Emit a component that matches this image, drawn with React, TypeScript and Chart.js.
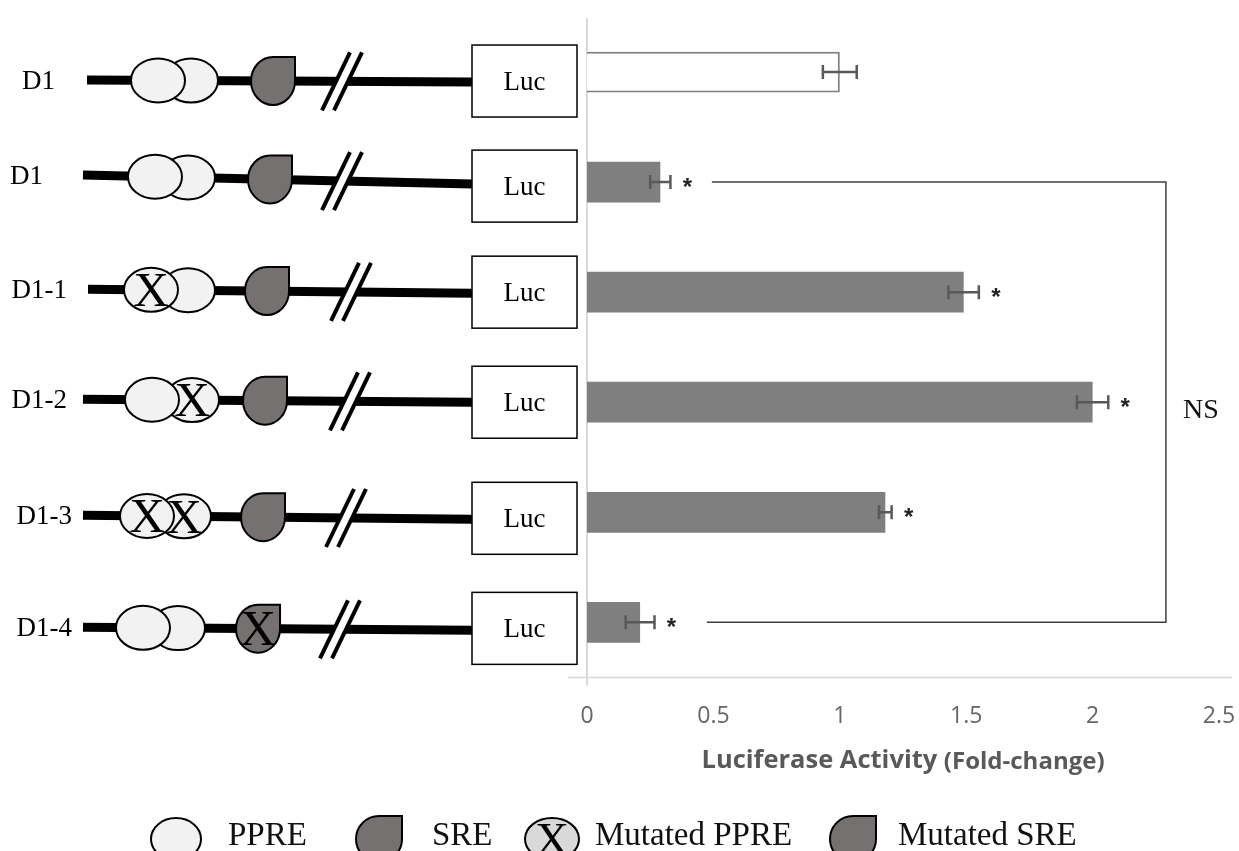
import React, { useEffect, useRef } from "react";
import { Chart, registerables } from "chart.js";
Chart.register(...registerables);

// ---------------- data ----------------
const constructs = ["D1", "D1", "D1-1", "D1-2", "D1-3", "D1-4"];
const foldChange = [1.0, 0.29, 1.49, 2.0, 1.18, 0.21];
const foldError = [0.067, 0.04, 0.06, 0.062, 0.025, 0.057];
const significance = ["", "*", "*", "*", "*", "*"];
const ppre1Mutated = [false, false, true, false, true, false];
const ppre2Mutated = [false, false, false, true, true, false];
const sreMutated = [false, false, false, false, false, true];
const xTickValues = [0, 0.5, 1, 1.5, 2, 2.5];
const axisTitle = "Luciferase Activity";
const axisSubtitle = "(Fold-change)";
const nsRows = [1, 5];
const nsBracketStart = [0.494, 0.474];
const nsBracketEnd = 2.29;
const nsLabel = "NS";
const legendLabels = ["PPRE", "SRE", "Mutated PPRE", "Mutated SRE"];

// ---------------- diagram layout (decoration) ----------------
const labelRight = [55, 43, 67, 67, 72, 72];
const lineStart = [87, 83, 88, 83, 83, 83];
const lineDyLeft = [8, -7, -3, -3, 3, 5];
const lineDyRight = [10, 2, 1, 0, 7, 8];
const ppreAX = [158, 155, 151, 152, 147, 143];
const ppreBX = [191, 188, 188, 192, 184, 178];
const sreX = [273, 270, 267, 265, 263, 258];
const slashX = [342, 342, 351, 350, 346, 340];
const boxDy = [9, 4, 0, 0, 6, 6];
const BOX_L = 472;
const BOX_W = 105;
const BOX_H = 72;

const SERIF = '"Liberation Serif", "Times New Roman", serif';
const PPRE_FILL = "#f2f2f2";
const SRE_FILL = "#767171";

function drawX(ctx: CanvasRenderingContext2D, cx: number, cy: number, size: number) {
  ctx.save();
  ctx.fillStyle = "#000";
  ctx.font = `${size}px ${SERIF}`;
  ctx.textAlign = "center";
  ctx.textBaseline = "alphabetic";
  ctx.fillText("X", cx, cy + size * 0.33);
  ctx.restore();
}

function drawPPRE(ctx: CanvasRenderingContext2D, cx: number, cy: number, rx: number, ry: number, fill: string, mutated: boolean) {
  ctx.save();
  ctx.beginPath();
  ctx.ellipse(cx, cy, rx, ry, 0, 0, Math.PI * 2);
  ctx.fillStyle = fill;
  ctx.fill();
  ctx.lineWidth = 2;
  ctx.strokeStyle = "#000";
  ctx.stroke();
  ctx.restore();
  if (mutated) drawX(ctx, cx, cy, ry * 2.25);
}

function drawSRE(ctx: CanvasRenderingContext2D, cx: number, cy: number, rx: number, ry: number, mutated: boolean) {
  ctx.save();
  ctx.beginPath();
  ctx.moveTo(cx, cy - ry);
  ctx.lineTo(cx + rx, cy - ry);
  ctx.lineTo(cx + rx, cy);
  ctx.ellipse(cx, cy, rx, ry, 0, 0, Math.PI * 1.5);
  ctx.closePath();
  ctx.fillStyle = SRE_FILL;
  ctx.fill();
  ctx.lineWidth = 2;
  ctx.strokeStyle = "#000";
  ctx.stroke();
  ctx.restore();
  if (mutated) drawX(ctx, cx, cy, ry * 2.1);
}

function drawSlash(ctx: CanvasRenderingContext2D, cx: number, cy: number) {
  const dx = 14, dy = 29, gap = 6;
  ctx.save();
  ctx.fillStyle = "#fff";
  ctx.beginPath();
  ctx.moveTo(cx - gap - dx, cy + dy);
  ctx.lineTo(cx - gap + dx, cy - dy);
  ctx.lineTo(cx + gap + dx, cy - dy);
  ctx.lineTo(cx + gap - dx, cy + dy);
  ctx.closePath();
  ctx.fill();
  ctx.strokeStyle = "#000";
  ctx.lineWidth = 4;
  for (const o of [-gap, gap]) {
    ctx.beginPath();
    ctx.moveTo(cx + o - dx, cy + dy);
    ctx.lineTo(cx + o + dx, cy - dy);
    ctx.stroke();
  }
  ctx.restore();
}

function drawConstruct(ctx: CanvasRenderingContext2D, i: number, yc: number) {
  const x0 = lineStart[i];
  const y0 = yc + lineDyLeft[i];
  const y1 = yc + lineDyRight[i];
  const lineY = (x: number) => y0 + ((y1 - y0) * (x - x0)) / (BOX_L - x0);

  // label
  ctx.save();
  ctx.fillStyle = "#000";
  ctx.font = `27px ${SERIF}`;
  ctx.textAlign = "right";
  ctx.textBaseline = "middle";
  ctx.fillText(constructs[i], labelRight[i], y0 + 2);
  ctx.restore();

  // backbone
  ctx.save();
  ctx.strokeStyle = "#000";
  ctx.lineWidth = 9;
  ctx.beginPath();
  ctx.moveTo(x0, y0);
  ctx.lineTo(BOX_L, y1);
  ctx.stroke();
  ctx.restore();

  drawSlash(ctx, slashX[i], lineY(slashX[i]));
  drawPPRE(ctx, ppreBX[i], lineY(ppreBX[i]), 27, 22, PPRE_FILL, ppre2Mutated[i]);
  drawPPRE(ctx, ppreAX[i], lineY(ppreAX[i]), 27, 22, PPRE_FILL, ppre1Mutated[i]);
  drawSRE(ctx, sreX[i], lineY(sreX[i]), 22, 24, sreMutated[i]);

  // Luc box
  const by = yc + boxDy[i];
  ctx.save();
  ctx.fillStyle = "#fff";
  ctx.fillRect(BOX_L, by - BOX_H / 2, BOX_W, BOX_H);
  ctx.strokeStyle = "#000";
  ctx.lineWidth = 1.5;
  ctx.strokeRect(BOX_L, by - BOX_H / 2, BOX_W, BOX_H);
  ctx.fillStyle = "#000";
  ctx.font = `27px ${SERIF}`;
  ctx.textAlign = "center";
  ctx.textBaseline = "middle";
  ctx.fillText("Luc", BOX_L + BOX_W / 2, by + 2);
  ctx.restore();
}

function drawLegend(ctx: CanvasRenderingContext2D) {
  const cy = 839;
  drawPPRE(ctx, 176, cy, 25, 21, PPRE_FILL, false);
  drawSRE(ctx, 379, cy, 23, 23, false);
  drawPPRE(ctx, 552, cy, 27, 21, "#d9d9d9", true);
  drawSRE(ctx, 853, cy, 23, 23, false);
  ctx.save();
  ctx.fillStyle = "#111";
  ctx.font = `33px ${SERIF}`;
  ctx.textAlign = "left";
  ctx.textBaseline = "alphabetic";
  const xs = [228, 432, 595, 898];
  legendLabels.forEach((t, k) => ctx.fillText(t, xs[k], 845));
  ctx.restore();
}

const overlay = {
  id: "overlay",
  beforeDatasetsDraw(chart: any) {
    const { ctx, scales } = chart;
    const x = scales.x;
    const y = scales.y;
    const zx = x.getPixelForValue(0);
    ctx.save();
    ctx.strokeStyle = "#d9d9d9";
    ctx.lineWidth = 2;
    ctx.beginPath();
    ctx.moveTo(zx, y.top + 1);
    ctx.lineTo(zx, y.bottom + 8);
    ctx.stroke();
    ctx.lineWidth = 1.5;
    ctx.beginPath();
    ctx.moveTo(x.left - 19, y.bottom);
    ctx.lineTo(x.right + 13, y.bottom);
    ctx.stroke();
    ctx.restore();
  },
  afterDatasetsDraw(chart: any) {
    const { ctx, scales } = chart;
    const x = scales.x;
    const y = scales.y;
    ctx.save();
    // error bars
    ctx.strokeStyle = "#595959";
    ctx.lineWidth = 2.5;
    foldChange.forEach((v, i) => {
      const yc = y.getPixelForValue(i);
      const xa = x.getPixelForValue(v - foldError[i]);
      const xb = x.getPixelForValue(v + foldError[i]);
      ctx.beginPath();
      ctx.moveTo(xa, yc);
      ctx.lineTo(xb, yc);
      ctx.moveTo(xa, yc - 7);
      ctx.lineTo(xa, yc + 7);
      ctx.moveTo(xb, yc - 7);
      ctx.lineTo(xb, yc + 7);
      ctx.stroke();
      if (significance[i]) {
        ctx.fillStyle = "#222";
        ctx.font = 'bold 24px "Liberation Sans", sans-serif';
        ctx.textAlign = "center";
        ctx.textBaseline = "middle";
        ctx.fillText(significance[i], xb + 17, yc + 6);
      }
    });
    // NS bracket
    ctx.strokeStyle = "#404040";
    ctx.lineWidth = 1.5;
    const ya = y.getPixelForValue(nsRows[0]);
    const yb = y.getPixelForValue(nsRows[1]);
    const xr = x.getPixelForValue(nsBracketEnd);
    ctx.beginPath();
    ctx.moveTo(x.getPixelForValue(nsBracketStart[0]), ya);
    ctx.lineTo(xr, ya);
    ctx.lineTo(xr, yb);
    ctx.lineTo(x.getPixelForValue(nsBracketStart[1]), yb);
    ctx.stroke();
    ctx.fillStyle = "#111";
    ctx.font = `28px ${SERIF}`;
    ctx.textAlign = "left";
    ctx.textBaseline = "middle";
    ctx.fillText(nsLabel, xr + 17, (ya + yb) / 2 + 8);
    ctx.restore();
  },
  afterDraw(chart: any) {
    const { ctx, scales } = chart;
    const x = scales.x;
    const y = scales.y;
    constructs.forEach((_, i) => drawConstruct(ctx, i, y.getPixelForValue(i)));
    drawLegend(ctx);
    // axis title
    ctx.save();
    ctx.fillStyle = "#595959";
    ctx.textBaseline = "middle";
    ctx.textAlign = "left";
    const f1 = 'bold 25.5px "Open Sans", sans-serif';
    const f2 = 'bold 24px "Open Sans", sans-serif';
    ctx.font = f1;
    const w1 = ctx.measureText(axisTitle + " ").width;
    ctx.font = f2;
    const w2 = ctx.measureText(axisSubtitle).width;
    const cx = (x.left + x.right) / 2;
    const sx = cx - (w1 + w2) / 2;
    ctx.font = f1;
    ctx.fillText(axisTitle + " ", sx, 761);
    ctx.font = f2;
    ctx.fillText(axisSubtitle, sx + w1, 762);
    ctx.restore();
  },
};

export default function App() {
  const ref = useRef<HTMLCanvasElement>(null);
  useEffect(() => {
    const chart = new Chart(ref.current!, {
      type: "bar",
      data: {
        labels: constructs,
        datasets: [
          {
            data: foldChange,
            backgroundColor: foldChange.map((_, i) => (i === 0 ? "#ffffff" : "#7f7f7f")),
            borderColor: "#7f7f7f",
            borderWidth: foldChange.map((_, i) => (i === 0 ? 2 : 0)),
            barPercentage: 0.37,
            categoryPercentage: 1,
          },
        ],
      },
      options: {
        indexAxis: "y",
        responsive: false,
        maintainAspectRatio: false,
        animation: false,
        layout: { autoPadding: false, padding: { left: 587, right: 20, top: 17, bottom: 104 } },
        plugins: { legend: { display: false }, tooltip: { enabled: false } },
        scales: {
          x: {
            type: "linear",
            min: 0,
            max: 2.5,
            afterBuildTicks: (s: any) => {
              s.ticks = xTickValues.map((v) => ({ value: v }));
            },
            afterFit: (s: any) => {
              s.paddingLeft = 0;
              s.paddingRight = 0;
            },
            ticks: {
              color: "#666666",
              font: { family: '"Open Sans", sans-serif', size: 23 },
              padding: 17,
              callback: (v: any) => String(v),
            },
            grid: { display: false },
            border: { display: false },
          },
          y: { display: false },
        },
      },
      plugins: [overlay],
    } as any);
    return () => chart.destroy();
  }, []);
  return (
    <div style={{ position: "absolute", left: 0, top: 0, width: 1239, height: 851, background: "#fff" }}>
      <canvas ref={ref} width={1239} height={851} />
    </div>
  );
}
